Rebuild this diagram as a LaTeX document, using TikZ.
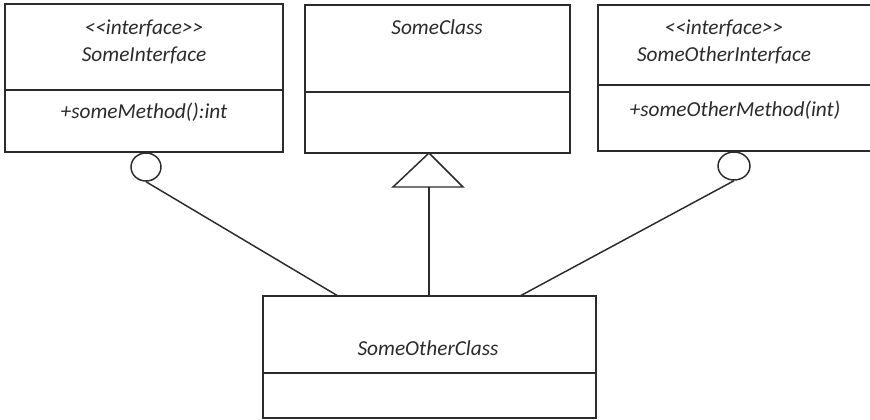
\documentclass[tikz,border=0pt]{standalone}
\usepackage{fontspec}
\setmainfont{Carlito}
\usetikzlibrary{shapes.geometric}
\definecolor{ink}{HTML}{2B2B2B}
\tikzset{
  umlbox/.style={draw=ink, line width=1.1pt, rectangle, inner sep=0pt},
  umltext/.style={font=\fontsize{16}{19}\selectfont\itshape, text=ink, inner sep=0pt},
  lollipop/.style={draw=ink, line width=1.1pt, ellipse, inner sep=0pt},
  link/.style={draw=ink, line width=1.1pt},
}
\newcommand{\stereo}[1]{{<}{<}#1{>}{>}}
\begin{document}
\begin{tikzpicture}[x=0.75pt, y=-0.75pt]
\useasboundingbox (0,0) rectangle (870,419);
\clip (0,0) rectangle (870,419);
\fill[white] (0,0) rectangle (870,419);

% interface SomeInterface
\node[umlbox, minimum width=208.5pt, minimum height=111pt] (b1) at (144,78) {};
\draw[link] (5,90) -- (283,90);
\node[umltext] (s1) at (144,28) {\stereo{interface}};
\node[umltext] (n1) at (144,55) {SomeInterface};
\node[umltext] (m1) at (144,112) {+someMethod():int};

% class SomeClass
\node[umlbox, minimum width=198.75pt, minimum height=111pt] (b2) at (437.5,79) {};
\draw[link] (305,92) -- (570,92);
\node[umltext] (n2) at (437,27) {SomeClass};

% interface SomeOtherInterface (runs past the right edge)
\node[umlbox, minimum width=211.5pt, minimum height=109.5pt] (b3) at (739,78) {};
\draw[link] (598,85) -- (880,85);
\node[umltext] (s3) at (724,28) {\stereo{interface}};
\node[umltext] (n3) at (724,55) {SomeOtherInterface};
\node[umltext] (m3) at (735,110) {+someOtherMethod(int)};

% class SomeOtherClass
\node[umlbox, minimum width=249.75pt, minimum height=91.5pt] (b4) at (429.5,357) {};
\draw[link] (263,373) -- (596,373);
\node[umltext] (n4) at (428,348) {SomeOtherClass};

% provided-interface lollipops
\node[lollipop, minimum width=22.5pt, minimum height=21pt] (c1) at (146,167) {};
\node[lollipop, minimum width=24pt, minimum height=21pt] (c3) at (734,166) {};

% generalization triangle
\coordinate (apex) at (429,153);
\coordinate (tl) at (393,187);
\coordinate (tr) at (463,187);
\coordinate (tb) at (429,187);
\draw[link, line join=miter] (apex) -- (tl) -- (tr) -- cycle;

% connector end points on SomeOtherClass
\coordinate (p1) at (338,296);
\coordinate (p2) at (429,296);
\coordinate (p3) at (520,296);

\draw[link] (c1.south) -- (p1);
\draw[link] (tb) -- (p2);
\draw[link] (c3.south) -- (p3);
\end{tikzpicture}
\end{document}
